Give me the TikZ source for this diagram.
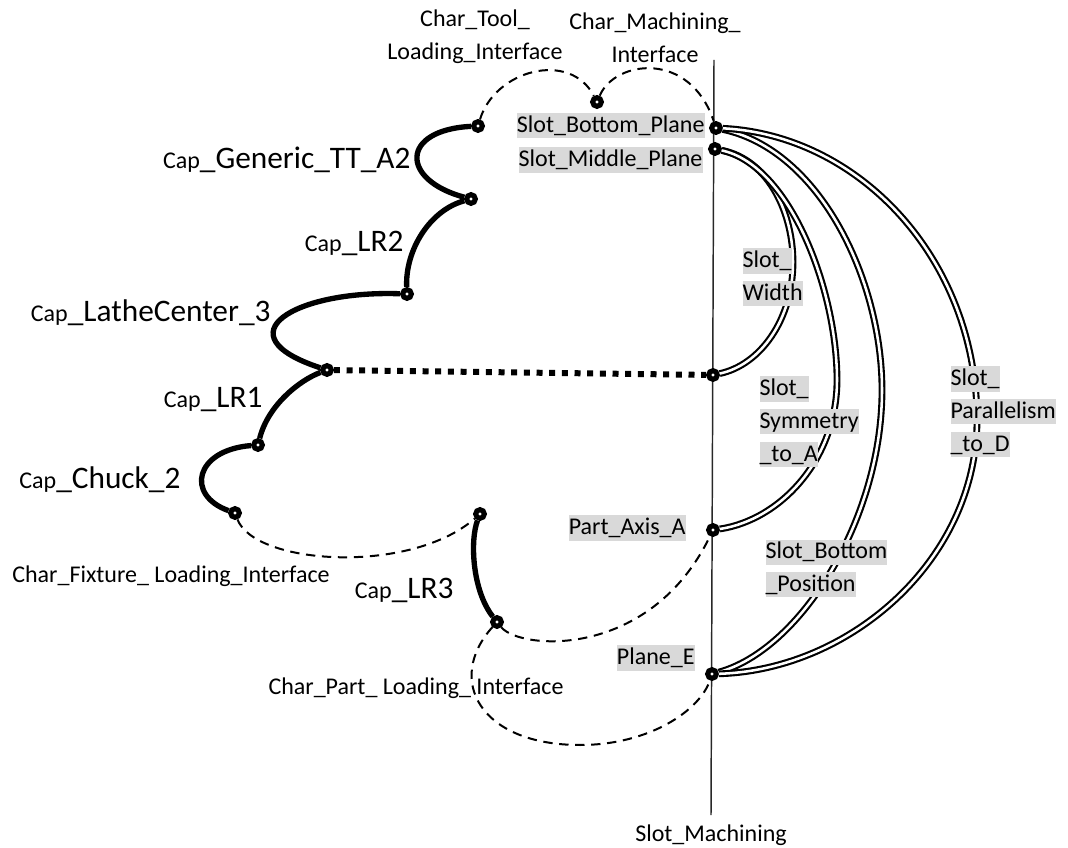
\documentclass[tikz,border=0pt]{standalone}
\usepackage{fontspec}
\setmainfont{Carlito}
\usepackage{tikz}
\usetikzlibrary{positioning}
\definecolor{labelgray}{RGB}{217,217,217}
\newcommand{\greybox}[1]{{\setlength{\fboxsep}{0pt}\colorbox{labelgray}{\rule[-4.5pt]{0pt}{19pt}#1}}}
\newcommand{\capfont}[1]{{\fontsize{18}{20}\selectfont Cap}\_#1}
\tikzset{every picture/.style={line width=0.75pt},
  joint/.style={circle, draw, line width=3.8pt, fill=white, inner sep=0pt, minimum size=6.5pt},
  capline/.style={line width=4pt},
  charline/.style={line width=1.5pt, dash pattern=on 7pt off 5pt},
  slotline/.style={double, line width=1.6pt, double distance=1.9pt},
  dotline/.style={line width=4.5pt, dash pattern=on 4.5pt off 5pt},
  smalltext/.style={font=\fontsize{18}{24.5}\selectfont, inner sep=0pt},
  bigtext/.style={font=\fontsize{23.5}{28}\selectfont, inner sep=0pt}}

\begin{document}
\begin{tikzpicture}[x=0.75pt,y=0.75pt,yscale=-1,xscale=1]
\useasboundingbox (0,0) rectangle (1068,848);

%Straight Lines
\coordinate (linetop) at (714,60);
\coordinate (linebot) at (711,815);
\draw [color={rgb, 255:red, 40; green, 40; blue, 40 }, line width=1.1pt] (linetop) -- (linebot);

%Shape: Circle
\node [joint] (a2top) at (478,126) {};
\node [joint] (a2bot) at (471,199) {};
\node [joint] (lr2bot) at (407,294) {};
\node [joint] (lathebot) at (327,370) {};
\node [joint] (lr1bot) at (258,445) {};
\node [joint] (chuckbot) at (235,513) {};
\node [joint] (lr3top) at (480,514) {};
\node [joint] (lr3bot) at (497,622) {};
\node [joint] (machdot) at (597,102) {};
\node [joint] (bottomplane) at (716,128) {};
\node [joint] (middleplane) at (715,149) {};
\node [joint] (slotmid) at (713,375) {};
\node [joint] (partaxis) at (713,530) {};
\node [joint] (planee) at (712,674) {};

%Curve Lines (capabilities)
\draw [capline] (a2top) .. controls (400,130) and (400,180) .. (a2bot);
\draw [capline] (a2bot) .. controls (430,210) and (405,250) .. (lr2bot);
\draw [capline] (lr2bot) .. controls (295,290) and (220,335) .. (lathebot);
\draw [capline] (lathebot) .. controls (300,380) and (268,405) .. (lr1bot);
\draw [capline] (lr1bot) .. controls (195,450) and (185,495) .. (chuckbot);
\draw [capline] (lr3top) .. controls (470,540) and (472,590) .. (lr3bot);

%Curve Lines (interfaces)
\draw [charline] (a2top) .. controls (495,70) and (570,50) .. (machdot);
\draw [charline] (machdot) .. controls (615,60) and (690,50) .. (bottomplane);
\draw [charline] (chuckbot) .. controls (255,565) and (410,575) .. (lr3top);
\draw [charline] (lr3bot) .. controls (520,650) and (650,660) .. (partaxis);
\draw [charline] (lr3bot) .. controls (445,680) and (480,745) .. (580,745) .. controls (650,745) and (700,710) .. (planee);

%Straight Lines
\draw [dotline] (lathebot) -- (slotmid);

%Curve Lines (slot tolerances)
\draw [slotline] (middleplane) .. controls (770,160) and (793,215) .. (793,262) .. controls (793,320) and (760,365) .. (slotmid);
\draw [slotline] (middleplane) .. controls (790,165) and (837,290) .. (837,380) .. controls (837,460) and (780,520) .. (partaxis);
\draw [slotline] (bottomplane) .. controls (820,150) and (882,280) .. (882,390) .. controls (882,520) and (800,650) .. (planee);
\draw [slotline] (bottomplane) .. controls (860,135) and (977,260) .. (977,420) .. controls (977,560) and (850,670) .. (planee);

% Text Node
\node [smalltext, align=center] (tooltext) at (475,37) {Char\_Tool\_\\Loading\_Interface};
% Text Node
\node [smalltext, align=center] (machtext) at (655,38) {Char\_Machining\_\\Interface};
% Text Node
\node [bigtext, anchor=east] (generictext) at (411,160) {\capfont{Generic\_TT\_A2}};
% Text Node
\node [bigtext, anchor=east] (lr2text) at (404,243) {\capfont{LR2}};
% Text Node
\node [bigtext, anchor=east] (lathetext) at (271,313) {\capfont{LatheCenter\_3}};
% Text Node
\node [bigtext, anchor=east] (lr1text) at (263,400) {\capfont{LR1}};
% Text Node
\node [bigtext, anchor=east] (chucktext) at (181,480) {\capfont{Chuck\_2}};
% Text Node
\node [smalltext] (fixturetext) at (171,576) {Char\_Fixture\_ Loading\_Interface};
% Text Node
\node [bigtext, anchor=east] (lr3text) at (454,590) {\capfont{LR3}};
% Text Node
\node [smalltext] (partloadtext) at (416,688) {Char\_Part\_ Loading\_ Interface};
% Text Node
\node [smalltext, below=9 of linebot] (slotmachtext) {Slot\_Machining};

% Text Node
\node [smalltext, anchor=east] (bottomtext) at (705,125.5) {\greybox{Slot\_Bottom\_Plane}};
% Text Node
\node [smalltext, anchor=east] (middletext) at (703,160) {\greybox{Slot\_Middle\_Plane}};
% Text Node
\node [smalltext, anchor=east] (parttext) at (686,528) {\greybox{Part\_Axis\_A}};
% Text Node
\node [smalltext, anchor=east] (planetext) at (695,658) {\greybox{Plane\_E}};
% Text Node
\node [smalltext, align=left, anchor=north west] (widthtext) at (742,248) {\greybox{Slot\_}\\\greybox{Width}};
% Text Node
\node [smalltext, align=left, anchor=north west] (symtext) at (759,376) {\greybox{Slot\_}\\\greybox{Symmetry}\\\greybox{\_to\_A}};
% Text Node
\node [smalltext, align=left, anchor=north west] (paratext) at (950,366) {\greybox{Slot\_}\\\greybox{Parallelism}\\\greybox{\_to\_D}};
% Text Node
\node [smalltext, align=left, anchor=north west] (bottompostext) at (765,539) {\greybox{Slot\_Bottom}\\\greybox{\_Position}};
\end{tikzpicture}
\end{document}
